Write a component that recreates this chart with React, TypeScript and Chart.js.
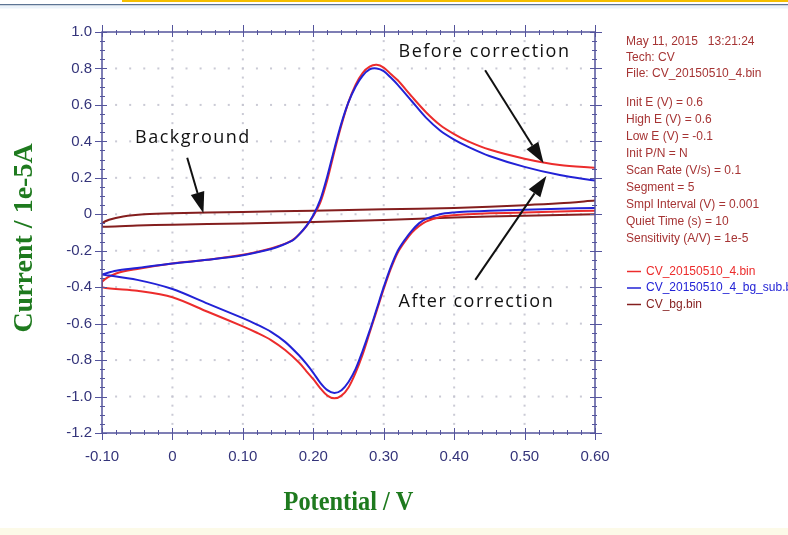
import { useEffect, useRef } from 'react';
import { Chart, registerables } from 'chart.js';

Chart.register(...registerables);

// Axis ticks: potential (V) and current (1e-5 A)
const xTickValues = [-0.1, 0, 0.1, 0.2, 0.3, 0.4, 0.5, 0.6];
const xTickLabels = ['-0.10', '0', '0.10', '0.20', '0.30', '0.40', '0.50', '0.60'];
const yTickValues = [1.0, 0.8, 0.6, 0.4, 0.2, 0, -0.2, -0.4, -0.6, -0.8, -1.0, -1.2];
const yTickLabels = ['1.0', '0.8', '0.6', '0.4', '0.2', '0', '-0.2', '-0.4', '-0.6', '-0.8', '-1.0', '-1.2'];
const xMinorStep = 0.02;
const yMinorStep = 0.05;

// Cathodic sweep, 0.6 V -> -0.1 V
const cathodicE = [0.60, 0.55, 0.50, 0.45, 0.42, 0.40, 0.38, 0.36, 0.35, 0.34, 0.33, 0.32, 0.31, 0.30, 0.29, 0.28, 0.27, 0.26, 0.25, 0.24, 0.23, 0.22, 0.21, 0.20, 0.19, 0.18, 0.16, 0.14, 0.12, 0.10, 0.05, 0.00, -0.05, -0.10];
const rawCathodic = [0.02, 0.015, 0.01, 0.005, 0.0, -0.005, -0.015, -0.04, -0.065, -0.10, -0.15, -0.21, -0.30, -0.41, -0.53, -0.65, -0.77, -0.87, -0.95, -0.995, -1.01, -0.995, -0.955, -0.905, -0.86, -0.815, -0.745, -0.69, -0.65, -0.615, -0.535, -0.455, -0.42, -0.40];
const correctedCathodic = [0.035, 0.03, 0.025, 0.02, 0.015, 0.01, 0.0, -0.025, -0.05, -0.09, -0.14, -0.20, -0.29, -0.40, -0.52, -0.64, -0.75, -0.85, -0.92, -0.965, -0.98, -0.965, -0.925, -0.87, -0.82, -0.775, -0.70, -0.645, -0.605, -0.57, -0.49, -0.41, -0.36, -0.33];

// Anodic sweep, -0.1 V -> 0.6 V
const anodicE = [-0.10, -0.08, -0.05, 0.00, 0.05, 0.10, 0.13, 0.15, 0.17, 0.18, 0.19, 0.20, 0.21, 0.22, 0.23, 0.24, 0.25, 0.26, 0.27, 0.28, 0.29, 0.30, 0.31, 0.32, 0.34, 0.36, 0.38, 0.40, 0.42, 0.45, 0.50, 0.55, 0.60];
const rawAnodic = [-0.37, -0.325, -0.30, -0.27, -0.25, -0.222, -0.197, -0.175, -0.143, -0.11, -0.067, -0.01, 0.065, 0.19, 0.345, 0.49, 0.615, 0.71, 0.775, 0.81, 0.82, 0.805, 0.77, 0.735, 0.645, 0.56, 0.49, 0.44, 0.40, 0.355, 0.305, 0.27, 0.255];
const correctedAnodic = [-0.33, -0.31, -0.295, -0.27, -0.25, -0.225, -0.20, -0.178, -0.145, -0.11, -0.065, -0.005, 0.08, 0.21, 0.36, 0.50, 0.615, 0.70, 0.76, 0.795, 0.80, 0.785, 0.75, 0.71, 0.62, 0.53, 0.46, 0.41, 0.37, 0.32, 0.26, 0.215, 0.185];

// Blank electrolyte scan
const bgCathodicE = [0.60, 0.50, 0.40, 0.30, 0.20, 0.10, 0.00, -0.05, -0.10];
const bgCathodic = [0.0, -0.008, -0.018, -0.032, -0.042, -0.05, -0.057, -0.062, -0.068];
const bgAnodicE = [-0.10, -0.09, -0.07, -0.04, 0.00, 0.10, 0.20, 0.30, 0.40, 0.50, 0.55, 0.60];
const bgAnodic = [-0.05, -0.03, -0.012, 0.0, 0.006, 0.013, 0.02, 0.027, 0.035, 0.05, 0.06, 0.075];

// Experiment header and parameters
const headerLines = ['May 11, 2015   13:21:24', 'Tech: CV', 'File: CV_20150510_4.bin'];
const paramLines = [
  'Init E (V) = 0.6',
  'High E (V) = 0.6',
  'Low E (V) = -0.1',
  'Init P/N = N',
  'Scan Rate (V/s) = 0.1',
  'Segment = 5',
  'Smpl Interval (V) = 0.001',
  'Quiet Time (s) = 10',
  'Sensitivity (A/V) = 1e-5',
];
const seriesNames = ['CV_20150510_4.bin', 'CV_20150510_4_bg_sub.bin', 'CV_bg.bin'];

// Callouts (potential, current)
const calloutTexts = ['Before correction', 'Background', 'After correction'];
const calloutTextAt = [[0.321, 0.889], [-0.053, 0.42], [0.321, -0.483]];
const calloutFrom = [[0.444, 0.79], [0.021, 0.31], [0.43, -0.36]];
const calloutTo = [[0.527, 0.28], [0.044, 0.006], [0.531, 0.21]];

const W = 788;
const H = 535;
const RED = 'rgb(236,44,44)';
const BLUE = 'rgb(34,34,214)';
const BROWN = 'rgb(132,30,30)';
const AXIS = 'rgb(84,84,156)';
const TICK_TEXT = 'rgb(52,52,122)';
const GREEN = 'rgb(30,122,30)';
const INFO = 'rgb(166,52,52)';
const SANS = '"Liberation Sans", Arial, sans-serif';
const SERIF = '"Liberation Serif", "Times New Roman", serif';

const pts = (xs: number[], ys: number[]) => xs.map((x, i) => ({ x, y: ys[i] }));

const decor = {
  id: 'decor',
  beforeDraw(chart: any) {
    const ctx = chart.ctx;
    ctx.save();
    ctx.fillStyle = '#ffffff';
    ctx.fillRect(0, 0, W, H);
    ctx.fillStyle = 'rgb(244,190,0)';
    ctx.fillRect(122, 0, W - 122, 2);
    ctx.fillStyle = 'rgb(92,116,148)';
    ctx.fillRect(0, 4, W, 1.5);
    ctx.fillStyle = 'rgb(236,243,250)';
    ctx.fillRect(0, 5.5, W, 3);
    ctx.fillStyle = 'rgb(252,250,232)';
    ctx.fillRect(0, 528, W, H - 528);
    ctx.restore();
  },
  beforeDatasetsDraw(chart: any) {
    const { ctx, scales } = chart;
    const xs = scales.x;
    const ys = scales.y;
    ctx.save();
    ctx.fillStyle = 'rgba(196,196,208,0.9)';
    // dotted grid: dots at minor positions along every major line
    for (const xv of xTickValues.slice(1, -1)) {
      const px = xs.getPixelForValue(xv);
      for (let i = 1; i < 44; i++) {
        const py = ys.getPixelForValue(-1.2 + i * yMinorStep);
        ctx.fillRect(px - 1, py - 1, 2, 2);
      }
    }
    for (const yv of yTickValues.slice(1, -1)) {
      const py = ys.getPixelForValue(yv);
      for (let i = 1; i < 35; i++) {
        const px = xs.getPixelForValue(-0.1 + i * xMinorStep);
        ctx.fillRect(px - 1, py - 1, 2, 2);
      }
    }
    ctx.restore();
  },
  afterDatasetsDraw(chart: any) {
    const { ctx, scales, chartArea } = chart;
    const xs = scales.x;
    const ys = scales.y;
    const { left, right, top, bottom } = chartArea;
    ctx.save();

    // frame and tick marks on all four sides
    ctx.strokeStyle = AXIS;
    ctx.lineWidth = 1.5;
    ctx.strokeRect(left, top, right - left, bottom - top);
    ctx.lineWidth = 1;
    ctx.beginPath();
    for (let i = 0; i <= 35; i++) {
      const px = Math.round(xs.getPixelForValue(-0.1 + i * xMinorStep)) + 0.5;
      const major = i % 5 === 0;
      const inL = major ? 5 : 3;
      const outL = major ? 7 : 2;
      ctx.moveTo(px, bottom - inL);
      ctx.lineTo(px, bottom + outL);
      ctx.moveTo(px, top + inL);
      ctx.lineTo(px, top - outL);
    }
    for (let i = 0; i <= 44; i++) {
      const py = Math.round(ys.getPixelForValue(-1.2 + i * yMinorStep)) + 0.5;
      const major = i % 4 === 0;
      const inL = major ? 5 : 3;
      const outL = major ? 7 : 2;
      ctx.moveTo(left + inL, py);
      ctx.lineTo(left - outL, py);
      ctx.moveTo(right - inL, py);
      ctx.lineTo(right + outL, py);
    }
    ctx.stroke();

    // callouts with arrows
    ctx.fillStyle = '#111';
    ctx.strokeStyle = '#111';
    ctx.font = '18px "Open Sans", "DejaVu Sans", sans-serif';
    (ctx as any).letterSpacing = '1.5px';
    ctx.textAlign = 'left';
    ctx.textBaseline = 'middle';
    calloutTexts.forEach((t, i) => {
      ctx.fillText(t, xs.getPixelForValue(calloutTextAt[i][0]), ys.getPixelForValue(calloutTextAt[i][1]));
    });
    (ctx as any).letterSpacing = '0px';
    calloutFrom.forEach((f, i) => {
      const x1 = xs.getPixelForValue(f[0]);
      const y1 = ys.getPixelForValue(f[1]);
      const x2 = xs.getPixelForValue(calloutTo[i][0]);
      const y2 = ys.getPixelForValue(calloutTo[i][1]);
      const ang = Math.atan2(y2 - y1, x2 - x1);
      const headL = 21;
      const headW = 7;
      const bx = x2 - headL * Math.cos(ang);
      const by = y2 - headL * Math.sin(ang);
      ctx.lineWidth = 2;
      ctx.beginPath();
      ctx.moveTo(x1, y1);
      ctx.lineTo(bx, by);
      ctx.stroke();
      ctx.beginPath();
      ctx.moveTo(x2, y2);
      ctx.lineTo(bx + headW * Math.sin(ang), by - headW * Math.cos(ang));
      ctx.lineTo(bx - headW * Math.sin(ang), by + headW * Math.cos(ang));
      ctx.closePath();
      ctx.fill();
    });

    // axis titles
    ctx.fillStyle = GREEN;
    ctx.font = `bold 28px ${SERIF}`;
    ctx.textAlign = 'center';
    ctx.textBaseline = 'middle';
    ctx.save();
    ctx.translate((left + right) / 2, 503);
    ctx.scale(0.87, 1);
    ctx.fillText('Potential / V', 0, 0);
    ctx.restore();
    ctx.save();
    ctx.translate(25, 238);
    ctx.rotate(-Math.PI / 2);
    ctx.fillText('Current / 1e-5A', 0, 0);
    ctx.restore();

    // experiment info
    ctx.font = `12px ${SANS}`;
    ctx.textAlign = 'left';
    ctx.fillStyle = INFO;
    headerLines.forEach((t, i) => ctx.fillText(t, 626, 42 + i * 16));
    paramLines.forEach((t, i) => ctx.fillText(t, 626, 103 + i * 17));

    // legend
    const legendColors = [RED, BLUE, BROWN];
    seriesNames.forEach((name, i) => {
      const y = 271.5 + i * 16.5;
      ctx.strokeStyle = legendColors[i];
      ctx.lineWidth = 1.5;
      ctx.beginPath();
      ctx.moveTo(627, y);
      ctx.lineTo(641, y);
      ctx.stroke();
      ctx.fillStyle = legendColors[i];
      ctx.fillText(name, 646, y);
    });
    ctx.restore();
  },
};

export default function App() {
  const ref = useRef<HTMLCanvasElement>(null);

  useEffect(() => {
    const canvas = ref.current;
    if (!canvas) return;
    const line = (label: string, color: string, data: { x: number; y: number }[]) => ({
      label,
      data,
      borderColor: color,
      backgroundColor: color,
      borderWidth: 2,
      pointRadius: 0,
      fill: false,
      tension: 0.3,
    });
    const chart = new Chart(canvas, {
      type: 'line',
      data: {
        datasets: [
          line(seriesNames[1], BLUE, [...pts(cathodicE, correctedCathodic), ...pts(anodicE, correctedAnodic)]),
          line(seriesNames[0], RED, [...pts(cathodicE, rawCathodic), ...pts(anodicE, rawAnodic)]),
          line(seriesNames[2], BROWN, [...pts(bgCathodicE, bgCathodic), ...pts(bgAnodicE, bgAnodic)]),
        ],
      },
      options: {
        animation: false,
        responsive: false,
        maintainAspectRatio: false,
        layout: { padding: { left: 0, right: 193, top: 32, bottom: 0 } },
        plugins: { legend: { display: false }, tooltip: { enabled: false } },
        scales: {
          x: {
            type: 'linear',
            min: -0.1,
            max: 0.6,
            grid: { display: false, drawTicks: false },
            border: { display: false },
            afterBuildTicks: (s: any) => {
              s.ticks = xTickValues.map((v) => ({ value: v }));
            },
            afterFit: (s: any) => {
              s.height = 102;
            },
            ticks: {
              autoSkip: false,
              maxRotation: 0,
              padding: 15,
              color: TICK_TEXT,
              font: { family: SANS, size: 15 },
              callback: (_v: any, i: number) => xTickLabels[i],
            },
          },
          y: {
            type: 'linear',
            min: -1.2,
            max: 1.0,
            grid: { display: false, drawTicks: false },
            border: { display: false },
            afterBuildTicks: (s: any) => {
              s.ticks = yTickValues.map((v) => ({ value: v }));
            },
            afterFit: (s: any) => {
              s.width = 102;
            },
            ticks: {
              autoSkip: false,
              padding: 10,
              color: TICK_TEXT,
              font: { family: SANS, size: 15 },
              callback: (_v: any, i: number) => yTickLabels[i],
            },
          },
        },
      } as any,
      plugins: [decor],
    });
    return () => chart.destroy();
  }, []);

  return (
    <div style={{ position: 'fixed', left: 0, top: 0, width: W, height: H, background: '#fff' }}>
      <canvas ref={ref} width={W} height={H} style={{ display: 'block', width: W, height: H }} />
    </div>
  );
}
